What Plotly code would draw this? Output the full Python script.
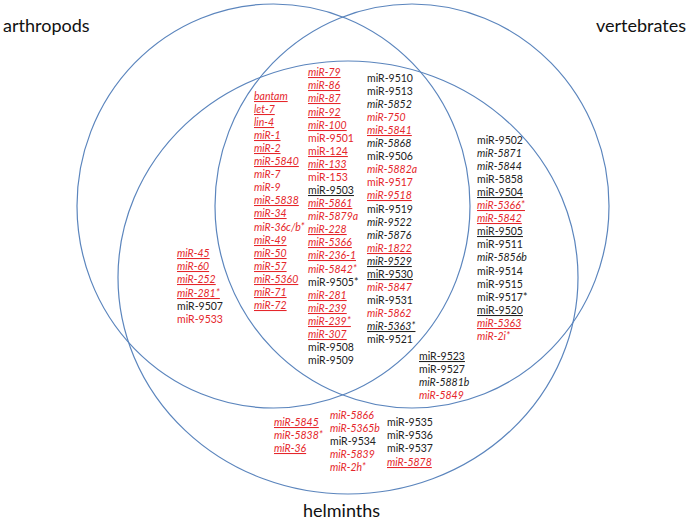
import plotly.graph_objects as go

# --- data: miRNA names per region, with a parallel format code list
# format codes: r = red / k = black, i = italic, u = underlined
arth_vert_helm_a = ["bantam", "let-7", "lin-4", "miR-1", "miR-2", "miR-5840", "miR-7", "miR-9",
                    "miR-5838", "miR-34", "miR-36c/b*", "miR-49", "miR-50", "miR-57", "miR-5360",
                    "miR-71", "miR-72"]
arth_vert_helm_a_fmt = ["riu", "riu", "riu", "riu", "riu", "riu", "ri", "ri", "riu", "riu", "ri",
                        "riu", "riu", "riu", "riu", "riu", "riu"]

arth_vert_helm_b = ["miR-79", "miR-86", "miR-87", "miR-92", "miR-100", "miR-9501", "miR-124",
                    "miR-133", "miR-153", "miR-9503", "miR-5861", "miR-5879a", "miR-228", "miR-5366",
                    "miR-236-1", "miR-5842*", "miR-9505*", "miR-281", "miR-239", "miR-239*",
                    "miR-307", "miR-9508", "miR-9509"]
arth_vert_helm_b_fmt = ["riu", "riu", "riu", "riu", "riu", "r", "ru", "riu", "r", "ku", "riu", "ri",
                        "riu", "riu", "riu", "ri", "k", "riu", "riu", "riu", "riu", "k", "k"]

arth_vert_helm_c = ["miR-9510", "miR-9513", "miR-5852", "miR-750", "miR-5841", "miR-5868",
                    "miR-9506", "miR-5882a", "miR-9517", "miR-9518", "miR-9519", "miR-9522",
                    "miR-5876", "miR-1822", "miR-9529", "miR-9530", "miR-5847", "miR-9531",
                    "miR-5862", "miR-5363*", "miR-9521"]
arth_vert_helm_c_fmt = ["k", "k", "ki", "ri", "riu", "ki", "k", "ri", "r", "riu", "k", "ki", "ki",
                        "riu", "kiu", "ku", "ri", "k", "ri", "kiu", "k"]

vert_helm = ["miR-9502", "miR-5871", "miR-5844", "miR-5858", "miR-9504", "miR-5366*", "miR-5842",
             "miR-9505", "miR-9511", "miR-5856b", "miR-9514", "miR-9515", "miR-9517*", "miR-9520",
             "miR-5363", "miR-2i*"]
vert_helm_fmt = ["k", "ki", "ki", "k", "ku", "riu", "riu", "ku", "k", "ki", "k", "k", "k", "ku",
                 "riu", "ri"]

vert_helm_low = ["miR-9523", "miR-9527", "miR-5881b", "miR-5849"]
vert_helm_low_fmt = ["ku", "k", "ki", "ri"]

arth_helm = ["miR-45", "miR-60", "miR-252", "miR-281*", "miR-9507", "miR-9533"]
arth_helm_fmt = ["riu", "riu", "riu", "riu", "k", "r"]

helm_a = ["miR-5845", "miR-5838*", "miR-36"]
helm_a_fmt = ["riu", "ri", "riu"]
helm_b = ["miR-5866", "miR-5365b", "miR-9534", "miR-5839", "miR-2h*"]
helm_b_fmt = ["ri", "ri", "k", "ri", "ri"]
helm_c = ["miR-9535", "miR-9536", "miR-9537", "miR-5878"]
helm_c_fmt = ["k", "k", "k", "riu"]

set_names = ["arthropods", "vertebrates", "helminths"]

# --- layout (pixel coordinates of the 689x522 canvas)
W, H = 689, 522
ROW = 13.08
RED = "#e5262b"
BLACK = "#222222"
LINE = "#5b85bd"
FONT = "Lato"

ellipses = [  # x0, y0, x1, y1
    (77, 4, 470, 408),
    (215, 4, 609, 408),
    (118, 61, 578, 494),
]

columns = [  # names, formats, left x, first row y
    (arth_vert_helm_a, arth_vert_helm_a_fmt, 253, 95.7),
    (arth_vert_helm_b, arth_vert_helm_b_fmt, 307, 72.3),
    (arth_vert_helm_c, arth_vert_helm_c_fmt, 366, 77.7),
    (vert_helm, vert_helm_fmt, 476, 139.7),
    (vert_helm_low, vert_helm_low_fmt, 418, 355.7),
    (arth_helm, arth_helm_fmt, 176, 253.3),
    (helm_a, helm_a_fmt, 273, 422.3),
    (helm_b, helm_b_fmt, 329, 414.7),
    (helm_c, helm_c_fmt, 386, 422.3),
]

fig = go.Figure()

for x0, y0, x1, y1 in ellipses:
    fig.add_shape(type="circle", xref="x", yref="y", x0=x0, y0=y0, x1=x1, y1=y1,
                  line=dict(color=LINE, width=1.2))

annotations = []
for names, fmts, cx, cy in columns:
    for i, (name, f) in enumerate(zip(names, fmts)):
        txt = name
        if "i" in f:
            txt = "<i>" + txt + "</i>"
        if "u" in f:
            txt = "<u>" + txt + "</u>"
        annotations.append(dict(
            x=cx, y=cy + i * ROW, xref="x", yref="y", text=txt, showarrow=False,
            xanchor="left", yanchor="middle", borderpad=0,
            font=dict(family=FONT, size=10.5, color=RED if f[0] == "r" else BLACK),
        ))

# set titles
for name, x, y, anchor in zip(set_names, [2, 687, 341], [25, 25, 510],
                              ["left", "right", "center"]):
    annotations.append(dict(x=x, y=y, xref="x", yref="y", text=name, showarrow=False,
                            xanchor=anchor, yanchor="middle", borderpad=0,
                            font=dict(family=FONT, size=18, color="#111111")))

fig.update_layout(
    width=W, height=H,
    margin=dict(l=0, r=0, t=0, b=0),
    paper_bgcolor="white", plot_bgcolor="white",
    showlegend=False,
    annotations=annotations,
    xaxis=dict(range=[0, W], visible=False, fixedrange=True),
    yaxis=dict(range=[H, 0], visible=False, fixedrange=True),
)

# drop the browser's default body margin so the figure sits at the window corner
fig.write_html("out.html", config={"displayModeBar": False},
               post_script="document.body.style.margin='0';document.body.style.overflow='hidden';")
